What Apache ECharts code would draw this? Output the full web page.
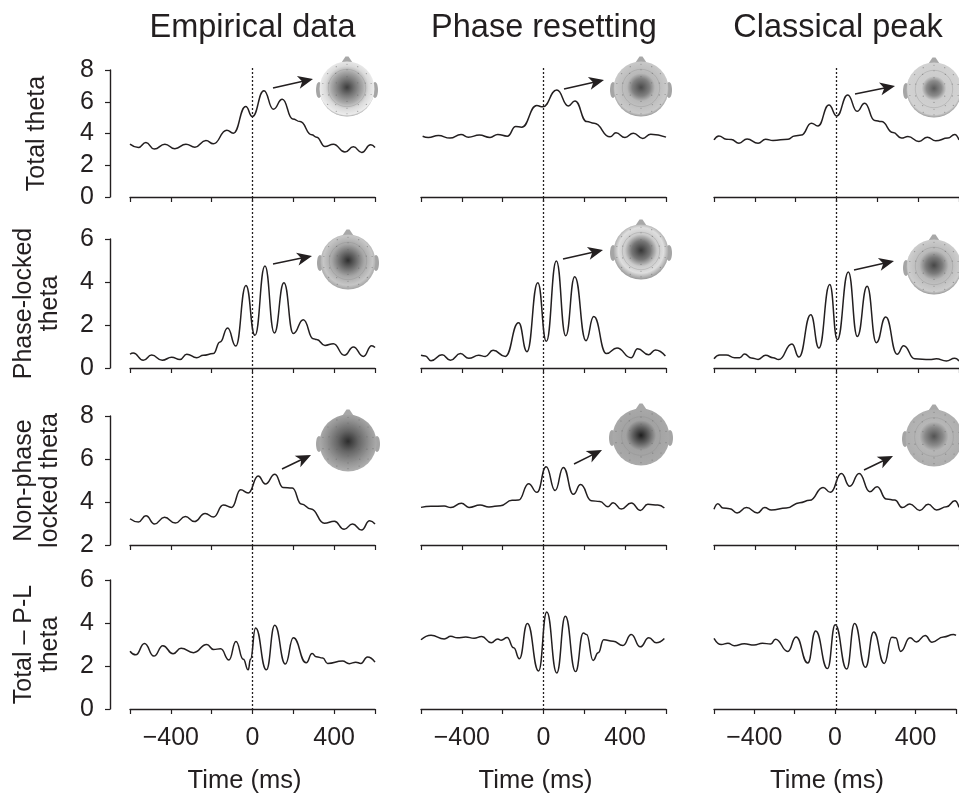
<!DOCTYPE html>
<html>
<head>
<meta charset="utf-8">
<title>Theta power</title>
<style>
  html, body { margin: 0; padding: 0; background: #fff; }
  #chart { width: 959px; height: 795px; }
</style>
<script src="https://cdn.jsdelivr.net/npm/echarts@6/dist/echarts.min.js"></script>
</head>
<body>
<div id="chart"></div>
<script>
// values, [time ms, power]
const columnTitles = ['Empirical data', 'Phase resetting', 'Classical peak']
const rowLabels = ['Total theta', 'Phase-locked\ntheta', 'Non-phase\nlocked theta', 'Total \u2013 P-L\ntheta']
const xTicks = [-400, 0, 400]

const empiricalTotal = [[-600,3.33],[-559,3.12],[-522,3.43],[-481,3.02],[-429,3.33],[-380,3.04],[-326,3.33],[-282,3.14],[-228,3.56],[-192,3.35],[-126,4.21],[-94,4.02],[-33,5.7],[-1,5.07],[56,6.7],[102,5.53],[146,6.16],[197,4.92],[233,4.75],[290,3.92],[314,3.77],[355,3.18],[396,3.33],[453,2.83],[494,3.16],[535,2.81],[579,3.29],[600,3.12]]
const empiricalLocked = [[-600,0.64],[-584,0.7],[-535,0.36],[-494,0.6],[-442,0.36],[-396,0.5],[-355,0.39],[-322,0.64],[-273,0.48],[-241,0.59],[-192,0.67],[-159,1.21],[-122,1.86],[-82,1.02],[-32,3.84],[12,1.52],[61,4.74],[107,1.63],[154,3.97],[200,1.6],[249,2.25],[298,1.36],[314,1.32],[355,1.05],[396,1.13],[450,0.59],[494,0.98],[543,0.54],[584,1.04],[600,0.95]]
const empiricalNonLocked = [[-600,3.22],[-559,3.07],[-522,3.36],[-480,2.98],[-431,3.29],[-378,3.02],[-329,3.32],[-285,3.09],[-232,3.47],[-191,3.3],[-143,3.86],[-102,3.75],[-58,4.57],[-21,4.42],[28,5.21],[63,4.84],[110,5.29],[149,4.68],[195,4.65],[239,3.91],[287,3.67],[352,3.01],[401,3.1],[449,2.73],[490,2.98],[534,2.7],[574,3.13],[600,2.98]]
const empiricalDiff = [[-600,2.69],[-572,2.52],[-529,3.05],[-483,2.46],[-439,2.94],[-389,2.57],[-350,2.83],[-289,2.62],[-224,3],[-191,2.77],[-156,2.8],[-115,2.28],[-81,3.14],[-45,2.31],[-21,1.82],[-10,2.31],[15,3.77],[68,1.82],[109,3.89],[161,2.09],[200,3.31],[263,2.15],[292,2.58],[312,2.43],[344,2.37],[368,2.12],[441,2.23],[474,2.11],[506,2.18],[531,2.12],[563,2.42],[600,2.18]]

const resetTotal = [[-592,3.83],[-564,3.75],[-515,3.87],[-458,3.71],[-404,3.94],[-368,3.77],[-314,3.9],[-262,3.75],[-224,3.94],[-177,3.83],[-136,4.44],[-107,4.4],[-33,5.76],[-4,5.68],[65,6.74],[122,5.74],[154,6.05],[212,4.75],[248,4.65],[326,3.79],[355,4.04],[399,3.75],[440,4.02],[486,3.69],[525,3.96],[600,3.77]]
const resetLocked = [[-600,0.59],[-579,0.56],[-551,0.34],[-497,0.62],[-456,0.36],[-407,0.67],[-366,0.45],[-317,0.59],[-285,0.54],[-247,0.82],[-187,0.54],[-122,2.11],[-81,0.76],[-28,3.97],[14,1.24],[63,4.98],[109,1.5],[153,4.25],[208,1.27],[246,2.39],[308,0.67],[360,0.93],[429,0.48],[461,0.9],[515,0.62],[548,0.84],[597,0.56]]
const resetNonLocked = [[-600,3.75],[-551,3.8],[-486,3.81],[-454,3.74],[-402,3.94],[-365,3.75],[-311,3.86],[-267,3.77],[-211,3.83],[-154,4.08],[-122,4.09],[-73,4.85],[-32,4.45],[13,5.64],[57,4.53],[97,5.61],[146,4.36],[182,4.81],[235,4.06],[276,4.02],[316,3.78],[341,3.97],[381,3.67],[430,3.95],[474,3.61],[511,3.89],[560,3.86],[592,3.72]]
const resetDiff = [[-600,3.22],[-551,3.43],[-486,3.26],[-454,3.38],[-422,3.31],[-381,3.35],[-340,3.29],[-303,3.37],[-256,3.08],[-224,3.26],[-207,3.2],[-178,3.32],[-146,2.85],[-118,2.34],[-79,3.98],[-24,1.77],[16,4.51],[65,1.68],[107,4.31],[157,1.74],[195,3.54],[211,3.46],[243,2.26],[268,2.62],[295,3.22],[341,3.15],[389,2.95],[430,3.46],[474,2.89],[516,3.31],[552,3.08],[592,3.28]]

const peakTotal = [[-600,3.6],[-576,3.85],[-540,3.64],[-515,3.62],[-478,3.39],[-438,3.66],[-384,3.39],[-347,3.64],[-311,3.56],[-237,3.64],[-205,3.85],[-172,3.9],[-123,4.65],[-91,4.48],[-37,5.8],[1,5.11],[55,6.43],[101,5.4],[138,5.91],[187,4.82],[220,4.75],[277,4.06],[318,3.71],[350,3.81],[404,3.5],[445,3.77],[486,3.54],[546,3.71],[579,3.94],[600,3.6]]
const peakLocked = [[-600,0.43],[-572,0.6],[-540,0.6],[-499,0.48],[-474,0.48],[-450,0.65],[-417,0.47],[-384,0.4],[-347,0.59],[-311,0.48],[-283,0.39],[-218,1.12],[-184,0.51],[-126,2.48],[-86,0.93],[-33,3.88],[4,1.32],[58,4.47],[102,1.47],[150,3.8],[195,1.18],[241,2.37],[297,0.64],[329,1.04],[383,0.43],[457,0.39],[489,0.43],[538,0.33],[579,0.45],[600,0.33]]
const peakNonLocked = [[-600,3.66],[-581,3.92],[-556,3.72],[-523,3.69],[-487,3.49],[-441,3.74],[-387,3.49],[-352,3.74],[-319,3.63],[-246,3.72],[-180,3.97],[-131,4.08],[-66,4.68],[-30,4.45],[24,5.32],[65,4.73],[111,5.33],[163,4.48],[199,4.71],[244,4.14],[285,4.09],[323,3.74],[359,3.91],[408,3.61],[449,3.89],[490,3.63],[539,3.78],[580,4.06],[600,3.75]]
const peakDiff = [[-600,3.29],[-564,3],[-531,3.06],[-499,2.94],[-450,3.03],[-401,2.98],[-360,3.06],[-319,3.02],[-295,3.25],[-234,2.68],[-193,3.35],[-135,2.14],[-96,3.63],[-37,1.88],[1,3.92],[58,1.86],[97,3.98],[151,1.94],[192,3.58],[244,2.12],[282,3.34],[301,3.31],[326,2.68],[372,3.31],[404,3.12],[447,3.42],[481,3.11],[538,3.35],[587,3.46],[600,3.42]]

const panelData = [
    [empiricalTotal, resetTotal, peakTotal],
    [empiricalLocked, resetLocked, peakLocked],
    [empiricalNonLocked, resetNonLocked, peakNonLocked],
    [empiricalDiff, resetDiff, peakDiff]
]
const yRanges = [[0, 8], [0, 6], [2, 8], [0, 6]]

// layout in px
const INK = '#231f20'
const FONT = '"Liberation Sans", Arial, sans-serif'
const colLeft = [130, 421, 714]
const colWidth = 245
const rowTop = [70, 239, 416, 580]
const rowBottom = [197, 368, 545, 710]
const titleX = [247.5, 539, 833]
const nameGaps = [60, 47, 47, 47]

// head maps and arrows, one per panel of the first three rows
const headCenters = [
    [[347, 89], [641, 89], [934, 90]],
    [[348, 262], [641, 252], [934, 267]],
    [[348, 443], [641, 437], [934, 438]]
]
const headRadius = [27.5, 27.5, 27.5]
const headShades = [
    [
        [[0, '#3c3c3c'], [0.28, '#777'], [0.55, '#ababab'], [0.74, '#dadada'], [0.94, '#ececec'], [1, '#a8a8a8']],
        [[0, '#4a4a4a'], [0.3, '#808080'], [0.48, '#b8b8b8'], [0.9, '#c9c9c9'], [1, '#9a9a9a']],
        [[0, '#5a5a5a'], [0.26, '#8c8c8c'], [0.42, '#cdcdcd'], [0.9, '#d2d2d2'], [1, '#9c9c9c']]
    ],
    [
        [[0, '#2e2e2e'], [0.3, '#6f6f6f'], [0.55, '#a6a6a6'], [0.85, '#c6c6c6'], [1, '#a4a4a4']],
        [[0, '#363636'], [0.32, '#777'], [0.55, '#cacaca'], [0.78, '#dedede'], [1, '#979797']],
        [[0, '#474747'], [0.28, '#7a7a7a'], [0.5, '#b8b8b8'], [0.9, '#cdcdcd'], [1, '#989898']]
    ],
    [
        [[0, '#2c2c2c'], [0.35, '#666'], [0.7, '#929292'], [1, '#b0b0b0']],
        [[0, '#1e1e1e'], [0.26, '#5f5f5f'], [0.5, '#a2a2a2'], [1, '#aaa']],
        [[0, '#535353'], [0.3, '#8a8a8a'], [0.48, '#b6b6b6'], [1, '#aeaeae']]
    ]
]
const arrowEnds = [
    [[273, 88, 313, 79], [564, 89, 604, 80], [855, 94, 895, 86]],
    [[273, 264, 312, 256], [563, 259, 603, 250], [854, 270, 894, 261]],
    [[282, 469, 311, 455], [574, 464, 602, 450], [864, 470, 893, 456]]
]

function headGraphic(center, r, shade) {
    const [cx, cy] = center
    const children = [
        { type: 'polygon', shape: { points: [[cx - 5.5, cy - r + 1], [cx - 1.5, cy - r - 5], [cx + 1.5, cy - r - 5], [cx + 5.5, cy - r + 1]] }, style: { fill: '#a8a8a8' } },
        { type: 'ellipse', shape: { cx: cx - r - 0.5, cy: cy + 1, rx: 3, ry: 8 }, style: { fill: '#a5a5a5' } },
        { type: 'ellipse', shape: { cx: cx + r + 0.5, cy: cy + 1, rx: 3, ry: 8 }, style: { fill: '#a5a5a5' } },
        {
            type: 'circle',
            shape: { cx, cy, r },
            style: {
                fill: {
                    type: 'radial', x: 0.5, y: 0.47, r: 0.53,
                    colorStops: shade.map(s => ({ offset: s[0], color: s[1] }))
                }
            }
        },
        // faint contour ring like the map's iso lines
        { type: 'circle', shape: { cx, cy: cy - 1, r: r * 0.68 }, style: { fill: 'none', stroke: '#8a8a8a', lineWidth: 0.7, opacity: 0.45 } }
    ]
    // electrode dots
    ;[0.45, 0.7, 0.9].forEach((f, k) => {
        const n = 6 + k * 4
        for (let i = 0; i < n; i++) {
            const a = (i + 0.5) / n * Math.PI * 2
            children.push({
                type: 'circle',
                shape: { cx: cx + Math.cos(a) * r * f, cy: cy + Math.sin(a) * r * f, r: 0.6 },
                style: { fill: '#666', opacity: 0.6 }
            })
        }
    })
    return { type: 'group', children }
}

function arrowGraphic(end) {
    const [x1, y1, x2, y2] = end
    const a = Math.atan2(y2 - y1, x2 - x1)
    const at = (back, side) => [
        x2 - back * Math.cos(a) - side * Math.sin(a),
        y2 - back * Math.sin(a) + side * Math.cos(a)
    ]
    return {
        type: 'group',
        children: [
            { type: 'line', shape: { x1, y1, x2: at(8, 0)[0], y2: at(8, 0)[1] }, style: { stroke: INK, lineWidth: 1.5 } },
            { type: 'polygon', shape: { points: [[x2, y2], at(15, 6.5), at(11, 0), at(15, -6.5)] }, style: { fill: INK } }
        ]
    }
}

const textBase = { color: INK, fontFamily: FONT, fontSize: 25 }
const grids = []
const xAxes = []
const yAxes = []
const series = []

panelData.forEach((row, r) => {
    row.forEach((points, c) => {
        const idx = grids.length
        grids.push({ left: colLeft[c], width: colWidth, top: rowTop[r], height: rowBottom[r] - rowTop[r] })
        const lastRow = r === panelData.length - 1
        xAxes.push({
            gridIndex: idx,
            type: 'value',
            min: -600,
            max: 600,
            interval: 200,
            name: lastRow ? 'Time (ms)' : '',
            nameLocation: 'middle',
            nameGap: 59,
            nameTextStyle: { ...textBase, fontSize: 25.5, padding: [0, 16, 0, 0] },
            axisLine: { onZero: false, lineStyle: { color: INK, width: 1.4 } },
            axisTick: { length: 5, lineStyle: { color: INK, width: 1.2 } },
            axisLabel: {
                show: lastRow,
                ...textBase,
                margin: 17,
                showMinLabel: true,
                showMaxLabel: true,
                formatter: v => xTicks.includes(v) ? String(v).replace('-', '\u2212') : ''
            },
            splitLine: { show: false }
        })
        yAxes.push({
            gridIndex: idx,
            type: 'value',
            show: c === 0,
            min: yRanges[r][0],
            max: yRanges[r][1],
            interval: 2,
            offset: 20,
            name: c === 0 ? rowLabels[r] : '',
            nameLocation: 'middle',
            nameRotate: 90,
            nameGap: nameGaps[r],
            nameTextStyle: { ...textBase, lineHeight: 26 },
            axisLine: { show: true, onZero: false, lineStyle: { color: INK, width: 1.4 } },
            axisTick: { show: true, length: 5, lineStyle: { color: INK, width: 1.2 } },
            axisLabel: { ...textBase, margin: 16 },
            splitLine: { show: false }
        })
        series.push({
            type: 'line',
            xAxisIndex: idx,
            yAxisIndex: idx,
            data: points,
            smooth: 0.5,
            smoothMonotone: 'x',
            symbol: 'none',
            silent: true,
            animation: false,
            clip: false,
            lineStyle: { color: INK, width: 1.5 }
        })
    })
})

// dotted zero line: one hidden full height grid per column
colLeft.forEach(left => {
    const idx = grids.length
    grids.push({ left, width: colWidth, top: 67, height: 643 })
    xAxes.push({ gridIndex: idx, type: 'value', show: false, min: -600, max: 600 })
    yAxes.push({ gridIndex: idx, type: 'value', show: false, min: 0, max: 1 })
    series.push({
        type: 'line',
        xAxisIndex: idx,
        yAxisIndex: idx,
        data: [[0, 0], [0, 1]],
        symbol: 'none',
        silent: true,
        animation: false,
        lineStyle: { color: INK, width: 1.3, type: [2, 2] }
    })
})

const graphics = []
headCenters.forEach((row, r) => {
    row.forEach((center, c) => {
        graphics.push(headGraphic(center, headRadius[c] + (r === 2 ? 1 : 0), headShades[r][c]))
        graphics.push(arrowGraphic(arrowEnds[r][c]))
    })
})

const chart = echarts.init(document.getElementById('chart'), null, { renderer: 'canvas' })
chart.setOption({
    backgroundColor: '#fff',
    animation: false,
    title: columnTitles.map((text, c) => ({
        text,
        left: titleX[c],
        top: 7,
        textAlign: 'center',
        textStyle: { color: INK, fontFamily: FONT, fontSize: 32.5, fontWeight: 'normal' }
    })),
    grid: grids,
    xAxis: xAxes,
    yAxis: yAxes,
    series,
    graphic: graphics
})
</script>
</body>
</html>
